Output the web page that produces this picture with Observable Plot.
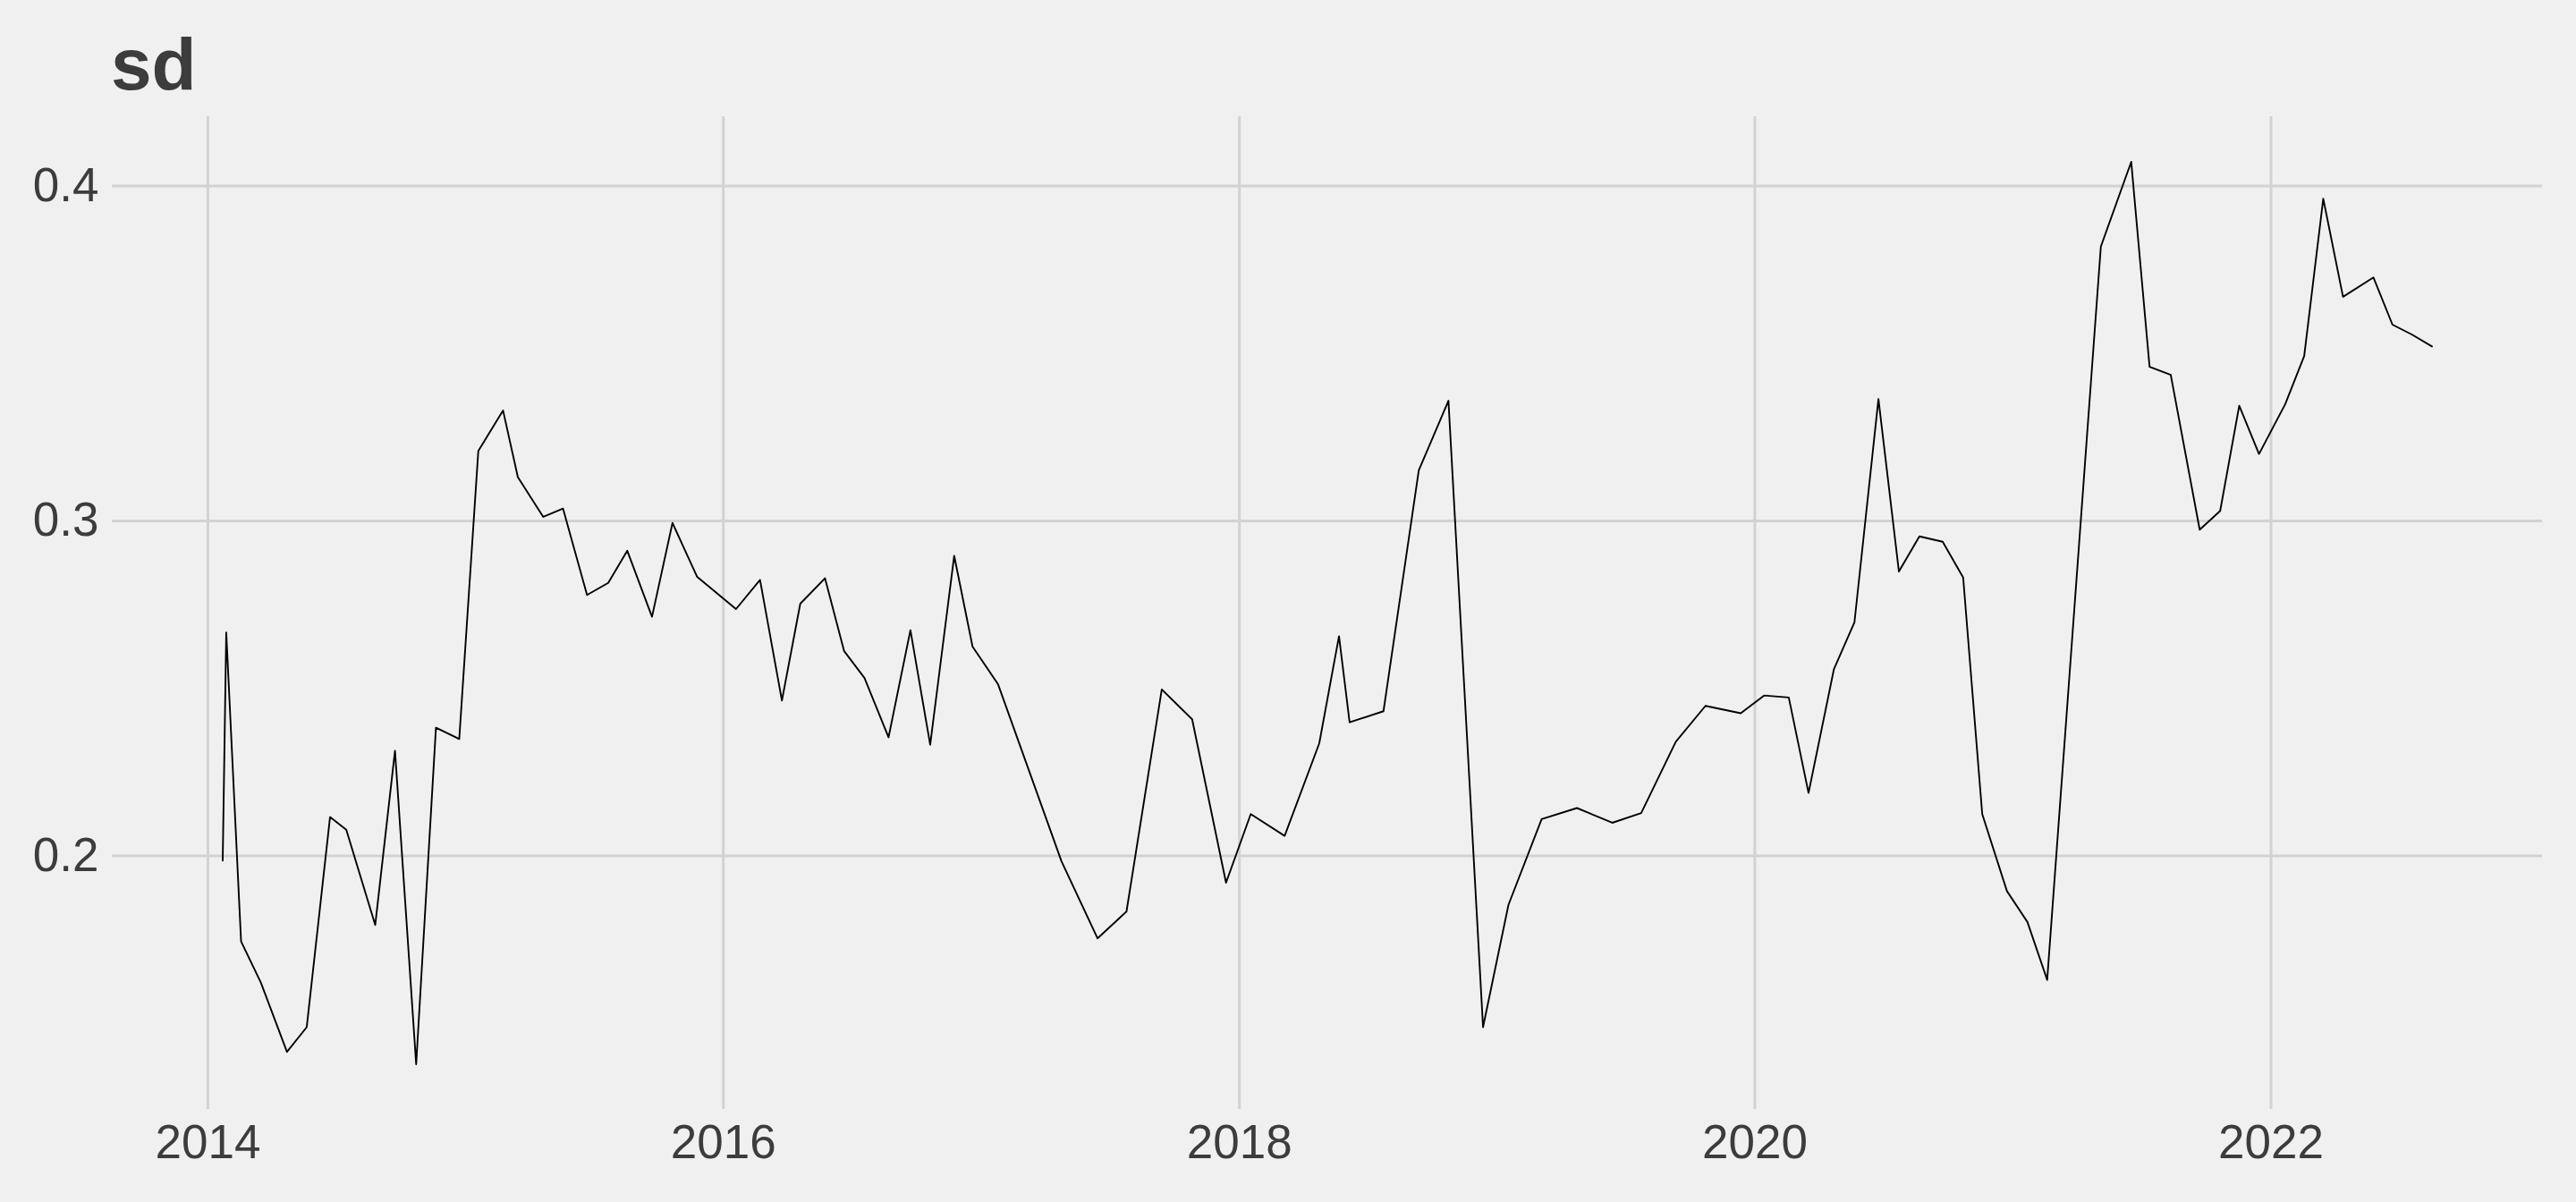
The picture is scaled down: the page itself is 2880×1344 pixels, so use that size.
<!DOCTYPE html>
<html>
<head>
<meta charset="utf-8">
<script src="https://cdn.jsdelivr.net/npm/d3@7"></script>
<script src="https://cdn.jsdelivr.net/npm/@observablehq/plot@0.6"></script>
<style>
  html, body { margin: 0; padding: 0; background: #F0F0F0; overflow: hidden; width: 2880px; height: 1344px; }
  #title { position: absolute; left: 124px; top: 31px; font-family: "Liberation Sans", Arial, sans-serif; font-weight: bold; font-size: 82px; line-height: 1; color: #3C3C3C; }
  #chart { position: absolute; left: 0; top: 120px; }
</style>
</head>
<body>
<div id="title">sd</div>
<div id="chart"></div>
<script>
const dates = [
  "2014-01-22","2014-01-27","2014-02-17","2014-03-17","2014-04-23","2014-05-21","2014-06-23","2014-07-16","2014-08-26","2014-09-23","2014-10-23","2014-11-20","2014-12-23",
  "2015-01-19","2015-02-23","2015-03-16","2015-04-21","2015-05-19","2015-06-22","2015-07-22","2015-08-18","2015-09-22","2015-10-21","2015-11-25",
  "2016-01-19","2016-02-22","2016-03-24","2016-04-19","2016-05-24","2016-06-20","2016-07-19","2016-08-22","2016-09-22","2016-10-20","2016-11-23","2016-12-19",
  "2017-01-24","2017-04-24","2017-06-14","2017-07-25","2017-09-13","2017-10-26","2017-12-13",
  "2018-01-17","2018-03-06","2018-04-24","2018-05-22","2018-06-06","2018-07-24","2018-09-12","2018-10-24","2018-12-12",
  "2019-01-17","2019-03-05","2019-04-24","2019-06-13","2019-07-24","2019-09-11","2019-10-23","2019-12-12",
  "2020-01-14","2020-02-18","2020-03-17","2020-04-22","2020-05-21","2020-06-24","2020-07-23","2020-08-21","2020-09-23","2020-10-22","2020-11-18","2020-12-23",
  "2021-01-21","2021-02-18","2021-05-05","2021-06-17","2021-07-13","2021-08-12","2021-09-22","2021-10-21","2021-11-17","2021-12-15",
  "2022-01-21","2022-02-17","2022-03-16","2022-04-13","2022-05-26","2022-06-22","2022-07-20","2022-08-17"
];
const sdValues = [
  0.1986, 0.2667, 0.1745, 0.1622, 0.1415, 0.1489, 0.2116, 0.2078, 0.1794, 0.2314, 0.1378, 0.2383, 0.2349,
  0.3209, 0.3330, 0.3131, 0.3012, 0.3037, 0.2779, 0.2815, 0.2911, 0.2714, 0.2994, 0.2833,
  0.2737, 0.2824, 0.2464, 0.2753, 0.2829, 0.2612, 0.2531, 0.2354, 0.2674, 0.2332, 0.2896, 0.2625,
  0.2513, 0.1984, 0.1754, 0.1834, 0.2497, 0.2408, 0.1920,
  0.2125, 0.2060, 0.2336, 0.2656, 0.2399, 0.2432, 0.3151, 0.3359, 0.1489,
  0.1854, 0.2110, 0.2143, 0.2099, 0.2128, 0.2341, 0.2448, 0.2426,
  0.2479, 0.2473, 0.2188, 0.2558, 0.2697, 0.3364, 0.2849, 0.2954, 0.2938, 0.2831, 0.2125, 0.1895,
  0.1803, 0.1630, 0.3819, 0.4072, 0.3460, 0.3436, 0.2974, 0.3030, 0.3344, 0.3200,
  0.3348, 0.3492, 0.3962, 0.3669, 0.3727, 0.3586, 0.3556, 0.3521
];
const xTickYears = [2014, 2016, 2018, 2020, 2022];
const yTicks = [0.2, 0.3, 0.4];
const titleText = "sd";

document.getElementById("title").textContent = titleText;

const data = dates.map((d, i) => ({date: new Date(d), sd: sdValues[i]}));
const xTicks = xTickYears.map(y => new Date(Date.UTC(y, 0, 1)));

// ggplot-like 5% expansion
const [x0, x1] = d3.extent(data, d => +d.date);
const xPad = (x1 - x0) * 0.05;
const [y0, y1] = d3.extent(sdValues);
const yPad = (y1 - y0) * 0.05;

const grid = {stroke: "#D2D2D2", strokeOpacity: 1, strokeWidth: 3};

const chart = Plot.plot({
  width: 2880,
  height: 1224,
  marginLeft: 125,
  marginRight: 38,
  marginTop: 10,
  marginBottom: 104,
  style: {
    background: "#F0F0F0",
    fontFamily: "'Liberation Sans', Arial, sans-serif",
    fontSize: "53px",
    color: "#3C3C3C"
  },
  x: {type: "utc", domain: [new Date(x0 - xPad), new Date(x1 + xPad)]},
  y: {domain: [y0 - yPad, y1 + yPad]},
  marks: [
    Plot.gridX(xTicks, grid),
    Plot.gridY(yTicks, grid),
    Plot.axisX(xTicks, {tickSize: 0, tickPadding: 17, label: null, tickFormat: d3.utcFormat("%Y"), fontSize: 53}),
    Plot.axisY(yTicks, {tickSize: 0, tickPadding: 15, label: null, tickFormat: d3.format(".1f"), fontSize: 53}),
    Plot.line(data, {x: "date", y: "sd", stroke: "black", strokeWidth: 1.9})
  ]
});
document.getElementById("chart").appendChild(chart);
</script>
</body>
</html>
